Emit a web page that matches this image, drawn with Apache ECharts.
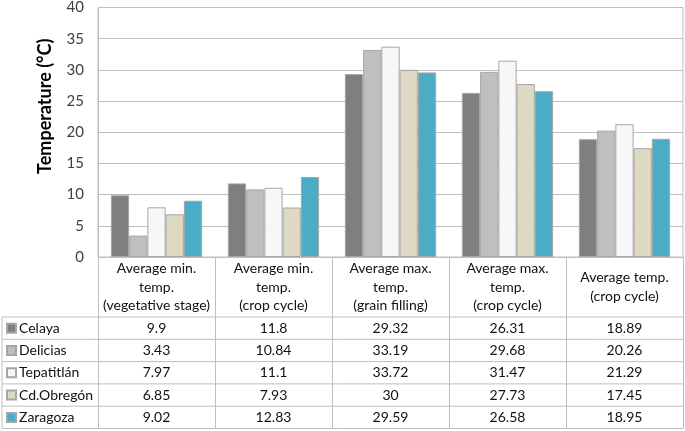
<!DOCTYPE html>
<html>
<head>
<meta charset="utf-8">
<script src="https://cdn.jsdelivr.net/npm/echarts@6/dist/echarts.min.js"></script>
<style>html,body{margin:0;padding:0;background:#fff}#c{width:685px;height:431px}</style>
</head>
<body>
<div id="c"></div>
<script>
const categories = [
  'Average min.\ntemp.\n(vegetative stage)',
  'Average min.\ntemp.\n(crop cycle)',
  'Average max.\ntemp.\n(grain filling)',
  'Average max.\ntemp.\n(crop cycle)',
  'Average temp.\n(crop cycle)'
];
const seriesNames = ['Celaya', 'Delicias', 'Tepatitlán', 'Cd.Obregón', 'Zaragoza'];
const celaya     = [9.9, 11.8, 29.32, 26.31, 18.89];
const delicias   = [3.43, 10.84, 33.19, 29.68, 20.26];
const tepatitlan = [7.97, 11.1, 33.72, 31.47, 21.29];
const obregon    = [6.85, 7.93, 30, 27.73, 17.45];
const zaragoza   = [9.02, 12.83, 29.59, 26.58, 18.95];
const yTicks = { min: 0, max: 40, interval: 5 };

const seriesValues = [celaya, delicias, tepatitlan, obregon, zaragoza];
const colors = ['#7F7F7F', '#BFBFBF', '#F7F7F7', '#DDD9C3', '#4BACC6'];
const FONT = 'Lato';
const TXT = '#111';
const LINE = '#BFBFBF';

const gridTop = 6, gridBottomY = 257, gridLeft = 98, gridRight = 683;
const rowLines = [317, 339.3, 361.6, 383.9, 406.2, 428.5];

const xAxes = [{
  type: 'category', data: categories, gridIndex: 0, position: 'bottom',
  axisLine: { show: true, lineStyle: { color: LINE } },
  axisTick: { show: true, interval: 0, length: rowLines[5] - gridBottomY, lineStyle: { color: LINE } },
  axisLabel: { interval: 0, margin: 30, verticalAlign: 'middle', fontFamily: FONT, fontSize: 14, lineHeight: 18.5, color: TXT, align: 'center' }
}];
seriesValues.forEach((vals, i) => {
  const center = (rowLines[i] + rowLines[i + 1]) / 2;
  xAxes.push({
    type: 'category', data: categories, gridIndex: 0, position: 'bottom',
    offset: center - gridBottomY,
    axisLine: { show: false }, axisTick: { show: false },
    axisLabel: { interval: 0, margin: 0, verticalAlign: 'middle', fontFamily: FONT, fontSize: 14, color: TXT,
      formatter: (v, idx) => String(vals[idx]) }
  });
});

const graphics = rowLines.map(y => ({
  type: 'line', shape: { x1: 2, y1: y, x2: gridRight, y2: y }, style: { stroke: LINE, lineWidth: 1 }, silent: true
}));
graphics.push({ type: 'line', shape: { x1: 2, y1: rowLines[0], x2: 2, y2: rowLines[5] }, style: { stroke: LINE, lineWidth: 1 }, silent: true });

const chart = echarts.init(document.getElementById('c'), null, { renderer: 'canvas' });
chart.setOption({
  animation: false,
  backgroundColor: '#fff',
  grid: { left: gridLeft, right: 685 - gridRight, top: gridTop, bottom: 431 - gridBottomY, show: true, borderColor: LINE, borderWidth: 1 },
  legend: {
    orient: 'vertical', left: 6, top: rowLines[0] + 4.2, padding: 0,
    icon: 'rect', itemWidth: 9, itemHeight: 9, itemGap: 8.3,
    textStyle: { fontFamily: FONT, fontSize: 14, color: TXT, lineHeight: 14, padding: [0, 0, 0, -2] },
    data: seriesNames, selectedMode: false
  },
  xAxis: xAxes,
  yAxis: {
    type: 'value', min: yTicks.min, max: yTicks.max, interval: yTicks.interval,
    name: 'Temperature (°C)', nameLocation: 'middle', nameGap: 44, nameRotate: 90,
    nameTextStyle: { fontFamily: FONT, fontSize: 18, fontWeight: 'bold', color: '#000', padding: [0, 0, 0, 52] },
    axisLine: { show: true, lineStyle: { color: LINE } },
    axisTick: { show: false },
    axisLabel: { fontFamily: FONT, fontSize: 15, color: '#404040', margin: 14 },
    splitLine: { lineStyle: { color: LINE, width: 1 } }
  },
  series: seriesNames.map((name, i) => ({
    name, type: 'bar', data: seriesValues[i], xAxisIndex: 0,
    barGap: '0%', barCategoryGap: '22%',
    itemStyle: { color: colors[i], borderColor: '#A6A6A6', borderWidth: 1 }
  })),
  graphic: graphics
});
</script>
</body>
</html>
